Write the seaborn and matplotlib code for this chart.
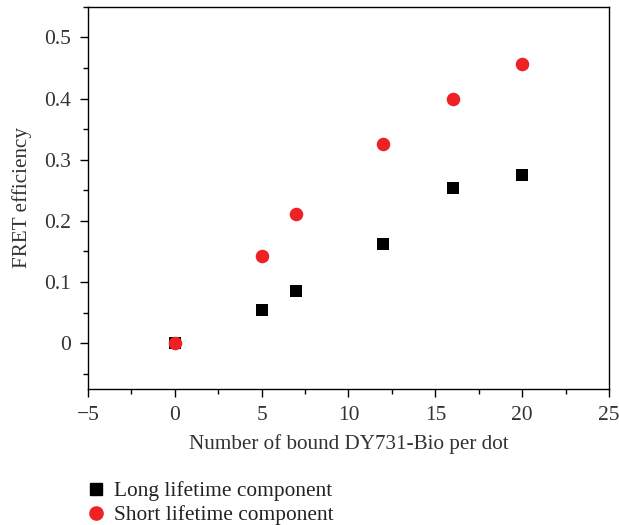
import matplotlib
matplotlib.use("Agg")
import matplotlib.pyplot as plt
import seaborn as sns
import pandas as pd
from matplotlib.ticker import MultipleLocator, FuncFormatter
from matplotlib.lines import Line2D

sns.set_style("white")
plt.rcParams['font.family'] = ['Liberation Serif', 'DejaVu Serif']

x_vals = [0, 5, 7, 12, 16, 20]
long_vals = [0.0, 0.054, 0.085, 0.162, 0.254, 0.275]
short_vals = [0.0, 0.143, 0.212, 0.325, 0.400, 0.457]
series_names = ["Long lifetime component", "Short lifetime component"]

df = pd.DataFrame({
    "x": x_vals * 2,
    "y": long_vals + short_vals,
    "series": [series_names[0]] * len(x_vals) + [series_names[1]] * len(x_vals),
})

fig = plt.figure(figsize=(6.19, 5.25), dpi=100)
ax = fig.add_axes([0.142, 0.259, 0.842, 0.728])

sns.scatterplot(data=df[df.series == series_names[0]], x="x", y="y", marker="s",
                color="black", s=80, linewidth=0, ax=ax, legend=False)
sns.scatterplot(data=df[df.series == series_names[1]], x="x", y="y", marker="o",
                color="#ee2124", s=95, linewidth=0, ax=ax, legend=False)

ax.set_xlim(-5, 25)
ax.set_ylim(-0.075, 0.55)
ax.xaxis.set_major_locator(MultipleLocator(5))
ax.xaxis.set_minor_locator(MultipleLocator(2.5))
ax.yaxis.set_major_locator(MultipleLocator(0.1))
ax.yaxis.set_minor_locator(MultipleLocator(0.05))

def xfmt(v, p):
    return "\u2212" + f"{abs(v):g}" if v < 0 else f"{v:g}"
def yfmt(v, p):
    if abs(v) < 1e-9:
        return "0"
    return f"{v:.1f}"
ax.xaxis.set_major_formatter(FuncFormatter(xfmt))
ax.yaxis.set_major_formatter(FuncFormatter(yfmt))

for s in ax.spines.values():
    s.set_color("black")
    s.set_linewidth(1.0)

ax.tick_params(axis="both", which="major", direction="out", length=6, width=1,
               color="black", labelsize=15.5, labelcolor="#333333", pad=6,
               bottom=True, left=True, top=False, right=False)
ax.tick_params(axis="both", which="minor", direction="out", length=3.5, width=1,
               color="black", bottom=True, left=True, top=False, right=False)

ax.set_xlabel("Number of bound DY731-Bio per dot", fontsize=15.2, color="#333333", labelpad=7)
ax.set_ylabel("FRET efficiency", fontsize=15.2, color="#333333", labelpad=9)

handles = [
    Line2D([], [], marker="s", color="black", linestyle="none", markersize=8.5),
    Line2D([], [], marker="o", color="#ee2124", linestyle="none", markersize=9.5),
]
fig.legend(handles, series_names, loc="upper left", bbox_to_anchor=(0.105, 0.12),
           frameon=False, fontsize=15.4, handletextpad=0.3, labelspacing=0.2,
           labelcolor="#222222", handlelength=1.1)

fig.savefig("out.png", dpi=100)
